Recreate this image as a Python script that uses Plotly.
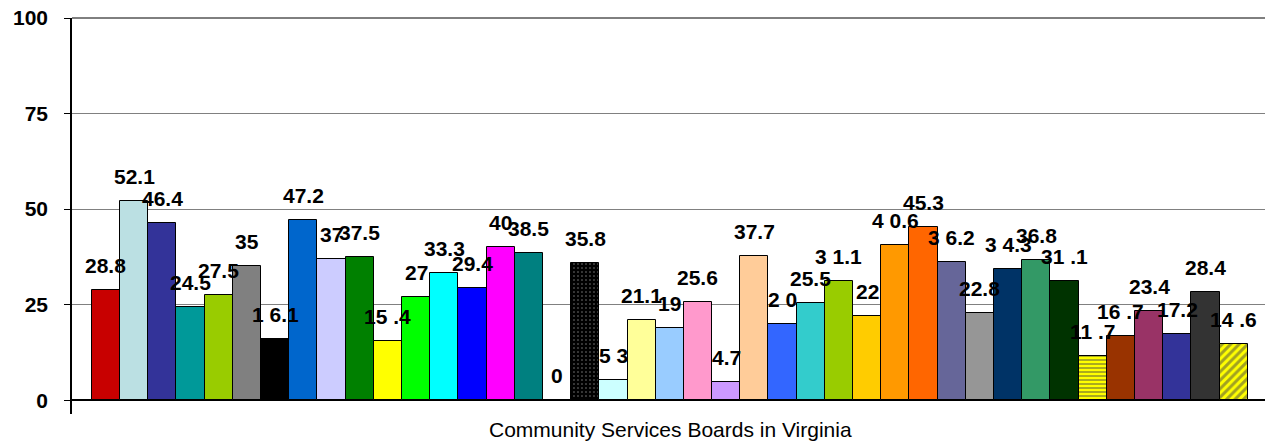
import plotly.graph_objects as go

values = [28.8, 52.1, 46.4, 24.5, 27.5, 35, 16.1, 47.2, 37, 37.5, 15.4, 27, 33.3, 29.4,
          40, 38.5, 0, 35.8, 5.3, 21.1, 19, 25.6, 4.7, 37.7, 20, 25.5, 31.1, 22, 40.6,
          45.3, 36.2, 22.8, 34.3, 36.8, 31.1, 11.7, 16.7, 23.4, 17.2, 28.4, 14.6]
labels = ["28.8", "52.1", "46.4", "24.5", "27.5", "35", "1 6.1", "47.2", "37", "37.5",
          "15 .4", "27", "33.3", "29.4", "40", "38.5", "0", "35.8", "5 3", "21.1", "19",
          "25.6", "4.7", "37.7", "2 0", "25.5", "3 1.1", "22", "4 0.6", "45.3", "3 6.2",
          "22.8", "3 4.3", "36.8", "31 .1", "11 .7", "16 .7", "23.4", "17.2", "28.4", "14 .6"]
colors = ["#C80000", "#BBE0E3", "#333399", "#009999", "#99CC00", "#808080", "#000000",
          "#0066CC", "#CCCCFF", "#008000", "#FFFF00", "#00FF00", "#00FFFF", "#0000FF",
          "#FF00FF", "#008080", "#FFFFFF", "#000000", "#CCFFFF", "#FFFF99", "#99CCFF",
          "#FF99CC", "#CC99FF", "#FFCC99", "#3366FF", "#33CCCC", "#99CC00", "#FFCC00",
          "#FF9900", "#FF6600", "#666699", "#969696", "#003366", "#339966", "#003300",
          "#FFFF00", "#993300", "#993366", "#333399", "#333333", "#FFFF00"]
patterns = [""] * 17 + ["."] + [""] * 17 + ["-"] + [""] * 4 + ["/"]
pattern_fg = ["#000000"] * 17 + ["#606060"] + ["#000000"] * 23
pattern_size = [6] * 17 + [4] + [6] * 17 + [4] + [6] * 4 + [6]
pattern_solidity = [0.3] * 17 + [0.12] + [0.3] * 17 + [0.45] + [0.3] * 4 + [0.5]
y_ticks = [0, 25, 50, 75, 100]
x_title = "Community Services Boards in Virginia"

x = list(range(len(values)))
FONT = "Liberation Sans, Arial"

fig = go.Figure()
fig.add_trace(go.Bar(
    x=x, y=values,
    marker=dict(
        color=colors,
        line=dict(color="#000000", width=1),
        pattern=dict(shape=patterns, fgcolor=pattern_fg, size=pattern_size,
                     solidity=pattern_solidity),
    ),
    hoverinfo="y",
))

for xi, v, t in zip(x, values, labels):
    fig.add_annotation(x=xi, y=v, text=t, showarrow=False, yanchor="bottom", yshift=11,
                       font=dict(family=FONT, size=21, color="#000000", weight="bold"))

fig.add_annotation(x=0.5, xref="paper", y=0, yref="paper", yanchor="middle", yshift=-15,
                   text=x_title, showarrow=False,
                   font=dict(family=FONT, size=21, color="#000000"))

fig.add_shape(type="line", xref="paper", yref="paper", x0=1, x1=1, y0=0, y1=1,
              line=dict(color="#808080", width=2))
fig.add_shape(type="line", xref="paper", yref="paper", x0=0, x1=1, y0=1, y1=1,
              line=dict(color="#000000", width=1))

# page body has an 8px default margin, so the figure is offset by 8px
fig.update_layout(
    width=1265, height=433,
    margin=dict(l=64, r=4, t=10, b=27, autoexpand=False),
    paper_bgcolor="white", plot_bgcolor="white",
    bargap=0, showlegend=False,
    font=dict(family=FONT, color="#000000"),
)
fig.update_xaxes(range=[-1.2, 41.25], showticklabels=False, showgrid=False,
                 zeroline=False, showline=False, ticks="", automargin=False)
fig.update_yaxes(range=[-3.6, 100], tickvals=y_ticks, ticks="outside", ticklen=6,
                 tickcolor="#000000", showgrid=True, gridcolor="#808080", gridwidth=1,
                 zeroline=True, zerolinecolor="#000000", zerolinewidth=1.5,
                 showline=True, linecolor="#000000", linewidth=1.5,
                 ticklabelstandoff=12, ticklabeloverflow="allow", automargin=False,
                 tickfont=dict(family=FONT, size=21, color="#000000", weight="bold"))

fig.write_html("out.html")
